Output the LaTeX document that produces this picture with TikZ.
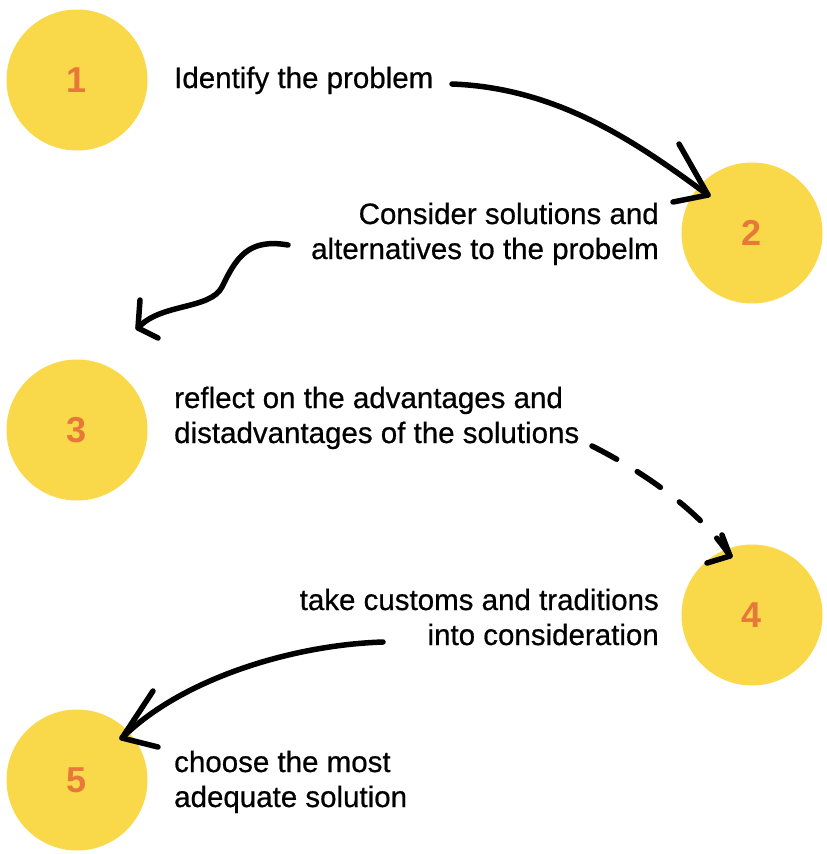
\documentclass[tikz,border=0pt]{standalone}
\usepackage{fontspec}
\setmainfont{Liberation Sans}
\newfontfamily\labelfont{Liberation Sans}[FakeBold=0.6]
\definecolor{circfill}{HTML}{F9D849}
\definecolor{digit}{HTML}{E8783A}
\tikzset{
  stepcircle/.style={circle, fill=circfill, draw=none, minimum size=141pt, inner sep=0pt,
    text=digit, font=\fontsize{36}{40}\selectfont\bfseries},
  label/.style={inner sep=0pt, font=\labelfont\fontsize{29.5}{35}\selectfont},
  stroke/.style={line width=5.5pt, line cap=round, line join=round, black},
}
\begin{document}
\begin{tikzpicture}[x=1pt, y=-1pt]
\useasboundingbox (0,0) rectangle (827,854);
% circles
\node[stepcircle] (c1) at (77,80) {1};
\node[stepcircle] (c2) at (752,233) {2};
\node[stepcircle] (c3) at (77,430) {3};
\node[stepcircle] (c4) at (752,615) {4};
\node[stepcircle] (c5) at (77,780) {5};
% texts
\node[label, anchor=base west] (t1) at (174,88) {Identify the problem};
\node[label, anchor=base east] (t2) at (659,224) {\begin{tabular}[t]{@{}r@{}}Consider solutions and\\ alternatives to the probelm\end{tabular}};
\node[label, anchor=base west] (t3) at (174,408) {\begin{tabular}[t]{@{}l@{}}reflect on the advantages and\\ distadvantages of the solutions\end{tabular}};
\node[label, anchor=base east] (t4) at (659,610) {\begin{tabular}[t]{@{}r@{}}take customs and traditions\\ into consideration\end{tabular}};
\node[label, anchor=base west] (t5) at (174,772) {\begin{tabular}[t]{@{}l@{}}choose the most\\ adequate solution\end{tabular}};
% arrow end points
\coordinate (a1s) at (452,84);
\coordinate (a1e) at (708,195);
\coordinate (a1b1) at (679,144);
\coordinate (a1b2) at (673,202);
\coordinate (a2s) at (288,245);
\coordinate (a2m) at (222,287);
\coordinate (a2e) at (138,328);
\coordinate (a2b1) at (140,300);
\coordinate (a2b2) at (158,338);
\coordinate (a3s) at (592,446);
\coordinate (a3e) at (730,556);
\coordinate (a3b1) at (722,535);
\coordinate (a3b2) at (707,563);
\coordinate (a4s) at (383,642);
\coordinate (a4e) at (122,738);
\coordinate (a4b1) at (153,691);
\coordinate (a4b2) at (158,747);
% arrow 1 -> 2
\draw[stroke] (a1s) .. controls (560,88) and (640,145) .. (a1e);
\draw[stroke] (a1b1) -- (a1e) -- (a1b2);
% arrow 2 -> 3
\draw[stroke] (a2s) .. controls (248,238) and (236,258) .. (a2m)
  .. controls (210,310) and (160,303) .. (a2e);
\draw[stroke] (a2b1) -- (a2e) -- (a2b2);
% arrow 3 -> 4 (dashed)
\draw[stroke, dash pattern=on 28pt off 24pt] (a3s) .. controls (640,470) and (700,510) .. (a3e);
\draw[stroke] (a3b1) -- (a3e) -- (a3b2);
% arrow 4 -> 5
\draw[stroke] (a4s) .. controls (290,645) and (180,680) .. (a4e);
\draw[stroke] (a4b1) -- (a4e) -- (a4b2);
\end{tikzpicture}
\end{document}
